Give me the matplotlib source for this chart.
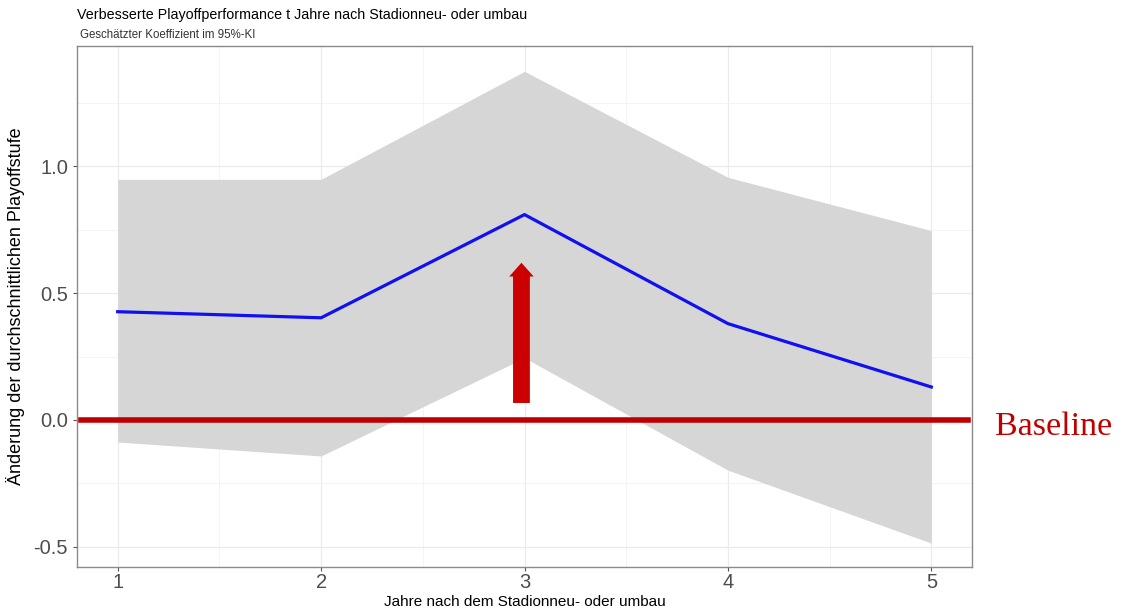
import numpy as np
import matplotlib.pyplot as plt
from matplotlib.ticker import MultipleLocator

plt.rcParams['font.family'] = ['Liberation Sans', 'DejaVu Sans']

# estimated coefficients with 95% CI per year after stadium rebuild
jahre = [1, 2, 3, 4, 5]
koeff = [0.427, 0.403, 0.81, 0.38, 0.13]
ki_oben = [0.949, 0.949, 1.375, 0.957, 0.747]
ki_unten = [-0.087, -0.142, 0.245, -0.198, -0.486]
baseline = 0.0
pfeil_start = 0.067
pfeil_ende = 0.62
pfeil_x = 2.985

fig = plt.figure(figsize=(11.25, 6.15), dpi=100)
ax = fig.add_axes([77 / 1125, 1 - 567 / 615, 895 / 1125, 521 / 615])

ax.fill_between(jahre, ki_unten, ki_oben, color='#d6d6d6', lw=0, zorder=2)
ax.plot(jahre, koeff, color='#1010f0', lw=2.3, zorder=3)

ax.set_xlim(0.8, 5.2)
ax.set_ylim(-0.58, 1.475)
ax.xaxis.set_major_locator(MultipleLocator(1))
ax.xaxis.set_minor_locator(MultipleLocator(0.5))
ax.yaxis.set_major_locator(MultipleLocator(0.5))
ax.yaxis.set_minor_locator(MultipleLocator(0.25))
ax.grid(which='major', color='#ebebeb', lw=0.9, zorder=0)
ax.grid(which='minor', color='#f2f2f2', lw=0.6, zorder=0)
ax.set_axisbelow(True)
ax.set_yticks([-0.5, 0.0, 0.5, 1.0])
ax.set_yticklabels(['-0.5', '0.0', '0.5', '1.0'])
ax.tick_params(which='major', colors='#555555', labelcolor='#4d4d4d',
               labelsize=14.5, length=3, width=0.8)
ax.tick_params(axis='x', pad=1.5)
ax.tick_params(which='minor', length=0)
for s in ax.spines.values():
    s.set_color('#8a8a8a')
    s.set_linewidth(1.0)

ax.set_xlabel('Jahre nach dem Stadionneu- oder umbau', fontsize=11, labelpad=2)
ax.set_ylabel('Änderung der durchschnittlichen Playoffstufe', fontsize=13, labelpad=6)

fig.text(77 / 1125, 1 - 15 / 615, 'Verbesserte Playoffperformance t Jahre nach Stadionneu- oder umbau',
         fontsize=10.3, va='center', ha='left')
fig.text(80 / 1125, 1 - 35 / 615, 'Geschätzter Koeffizient im 95%-KI',
         fontsize=8.3, va='center', ha='left', color='#333333')

# baseline at zero and the arrow above it
ax.axhline(baseline, xmin=0.004, xmax=0.996, color='#c00000', lw=4, zorder=4)
ax.annotate('', xy=(pfeil_x, pfeil_ende), xytext=(pfeil_x, pfeil_start),
            arrowprops=dict(arrowstyle='simple,head_length=0.45,head_width=0.8,tail_width=0.55',
                            color='#cc0000', lw=0, shrinkA=0, shrinkB=0,
                            mutation_scale=22),
            zorder=5)
ax.annotate('Baseline', xy=(1.0, baseline), xycoords=('axes fraction', 'data'),
            xytext=(16.5, -5), textcoords='offset points', ha='left', va='center',
            fontsize=24.5, color='#c00000', family=['Liberation Serif', 'DejaVu Serif'],
            annotation_clip=False)

fig.savefig('out.png', dpi=100)
